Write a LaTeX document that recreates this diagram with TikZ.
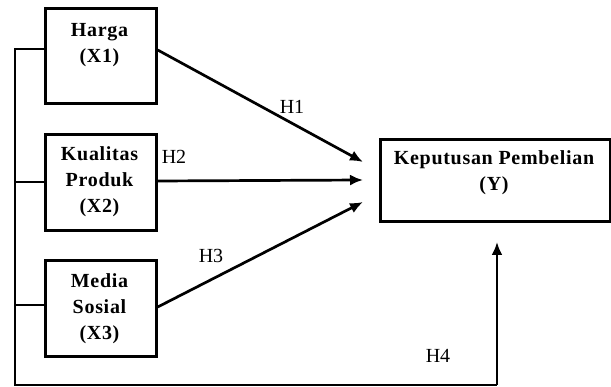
\documentclass[tikz,border=0pt]{standalone}
\usepackage{fontspec}
\setmainfont{Liberation Serif}
\newfontfamily\boxfont[LetterSpace=3.5]{Liberation Serif}
\usetikzlibrary{arrows.meta,calc}
\begin{document}
\begin{tikzpicture}[x=1pt,y=-1pt,
  box/.style={draw,line width=2.7pt,inner sep=0pt,anchor=north west},
  btext/.style={font=\fontsize{20}{26}\selectfont\boxfont\bfseries,align=center,inner sep=0pt},
  hlabel/.style={font=\fontsize{20}{24}\selectfont,inner sep=0pt},
  conn/.style={line width=2.7pt},
  arr/.style={line width=2.7pt,-{Latex[length=13pt,width=11pt]}}]
\useasboundingbox (0,0) rectangle (611,387);
% boxes
\node[box,minimum width=111pt,minimum height=95pt] (x1) at (44,7) {};
\node[box,minimum width=111pt,minimum height=96pt] (x2) at (44,133) {};
\node[box,minimum width=111pt,minimum height=96pt] (x3) at (44,259) {};
\node[box,minimum width=230pt,minimum height=82pt] (y) at (379,138) {};
% texts
\node[btext] (x1t) at (99.5,45) {Harga\\(X1)};
\node[btext] (x2t) at (99.5,182) {Kualitas\\Produk\\(X2)};
\node[btext] (x3t) at (99.5,309) {Media\\Sosial\\(X3)};
\node[btext] (yt) at (494,173) {Keputusan Pembelian\\(Y)};
% arrow end points
\coordinate (e1) at (363,162);
\coordinate (e2) at (363,180);
\coordinate (e3) at (363,202);
\coordinate (e4) at (497,242);
\coordinate (b1) at (15,49);
\coordinate (b2) at (15,182);
\coordinate (b3) at (15,305);
\coordinate (b4) at (15,385);
\coordinate (b5) at (497,385);
% direct paths
\draw[arr] (x1.east |- 0,50) -- (e1);
\draw[arr] (x2.east |- 0,181) -- (e2);
\draw[arr] (x3.east |- 0,307) -- (e3);
% bus
\draw[conn] (x1.west |- b1) -- (b1) -- (b4) -- (b5);
\draw[arr] (b5) -- (e4);
\draw[conn] (b2) -- (x2.west |- b2);
\draw[conn] (b3) -- (x3.west |- b3);
% labels
\node[hlabel] (h1) at (292,107) {H1};
\node[hlabel] (h2) at (174,157) {H2};
\node[hlabel] (h3) at (211,256) {H3};
\node[hlabel] (h4) at (438,356) {H4};
\end{tikzpicture}
\end{document}
